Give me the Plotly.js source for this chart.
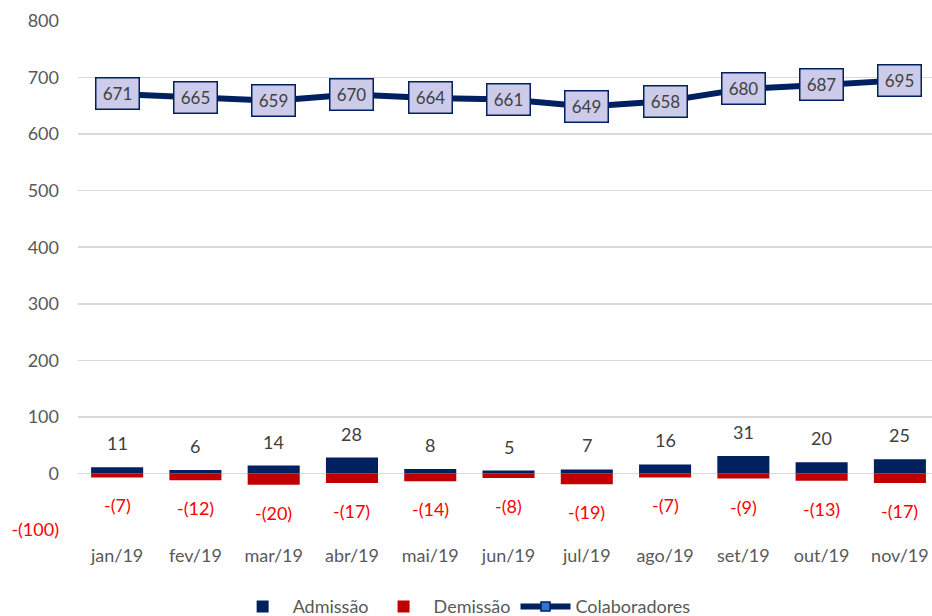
<!DOCTYPE html>
<html>
<head>
<meta charset="utf-8">
<script src="https://cdn.plot.ly/plotly-3.0.1.min.js"></script>
<style>html,body{margin:0;padding:0;background:#fff;}#chart{width:932px;height:616px;}</style>
</head>
<body>
<div id="chart"></div>
<script>
const months = ["jan/19","fev/19","mar/19","abr/19","mai/19","jun/19","jul/19","ago/19","set/19","out/19","nov/19"];
const admissao = [11, 6, 14, 28, 8, 5, 7, 16, 31, 20, 25];
const demissao = [-7, -12, -20, -17, -14, -8, -19, -7, -9, -13, -17];
const colaboradores = [671, 665, 659, 670, 664, 661, 649, 658, 680, 687, 695];
const yTickVals = [-100, 0, 100, 200, 300, 400, 500, 600, 700, 800];
const yTickText = ['<span style="color:#ff0000">-(100)</span>', "0", "100", "200", "300", "400", "500", "600", "700", "800"];

const FONT = "Lato, 'Open Sans', sans-serif";
const NAVY = "#002060", RED = "#c00000";
const xIdx = months.map((m, i) => i);

const traces = [
  {type: "bar", name: "Admissão", x: xIdx, y: admissao, marker: {color: NAVY}, hoverinfo: "skip"},
  {type: "bar", name: "Demissão", x: xIdx, y: demissao, marker: {color: RED}, hoverinfo: "skip"},
  {type: "scatter", mode: "lines+markers", name: "Colaboradores", x: xIdx, y: colaboradores,
   line: {color: NAVY, width: 6},
   marker: {symbol: "square", size: 9, color: "#2e75d6", line: {color: NAVY, width: 1.5}},
   hoverinfo: "skip"}
];

const annotations = [];
xIdx.forEach(i => {
  annotations.push({x: i, y: admissao[i], xref: "x", yref: "y", text: String(admissao[i]),
    showarrow: false, yanchor: "middle", yshift: 24, font: {family: FONT, size: 18, color: "#404040"}});
  annotations.push({x: i, y: demissao[i], xref: "x", yref: "y", text: "-(" + Math.abs(demissao[i]) + ")",
    showarrow: false, yanchor: "middle", yshift: -28, font: {family: FONT, size: 18, color: "#ff0000"}});
  annotations.push({x: i, y: colaboradores[i], xref: "x", yref: "y", text: String(colaboradores[i]),
    showarrow: false, xanchor: "center", yanchor: "middle", width: 40, height: 28, borderpad: 1,
    bgcolor: "#ccccea", bordercolor: NAVY, borderwidth: 1.5,
    font: {family: FONT, size: 17, color: "#404040"}});
});

const layout = {
  width: 932, height: 616,
  margin: {l: 78, r: 0, t: 21, b: 86},
  paper_bgcolor: "#fff", plot_bgcolor: "#fff",
  font: {family: FONT, size: 18, color: "#595959"},
  barmode: "relative",
  bargap: 0.335,
  showlegend: true,
  legend: {orientation: "h", x: 0.498, xref: "container", xanchor: "center",
    y: 0.015, yref: "container", yanchor: "middle",
    font: {family: FONT, size: 18, color: "#595959"}, traceorder: "normal", itemwidth: 50},
  xaxis: {
    tickmode: "array", tickvals: xIdx, ticktext: months,
    range: [-0.5, 10.41], showgrid: false, zeroline: false, showline: false,
    ticks: "", ticklabelstandoff: 13, fixedrange: true, automargin: false,
    tickfont: {family: FONT, size: 18, color: "#595959"}
  },
  yaxis: {
    range: [-100, 800], tickmode: "array", tickvals: yTickVals, ticktext: yTickText,
    showgrid: true, gridcolor: "#d9d9d9", gridwidth: 1.5, zeroline: false, showline: false,
    ticks: "", ticklabelstandoff: 18, fixedrange: true, automargin: false,
    tickfont: {family: FONT, size: 18, color: "#595959"}
  },
  annotations: annotations
};

Plotly.newPlot("chart", traces, layout, {displayModeBar: false, staticPlot: true});
</script>
</body>
</html>
